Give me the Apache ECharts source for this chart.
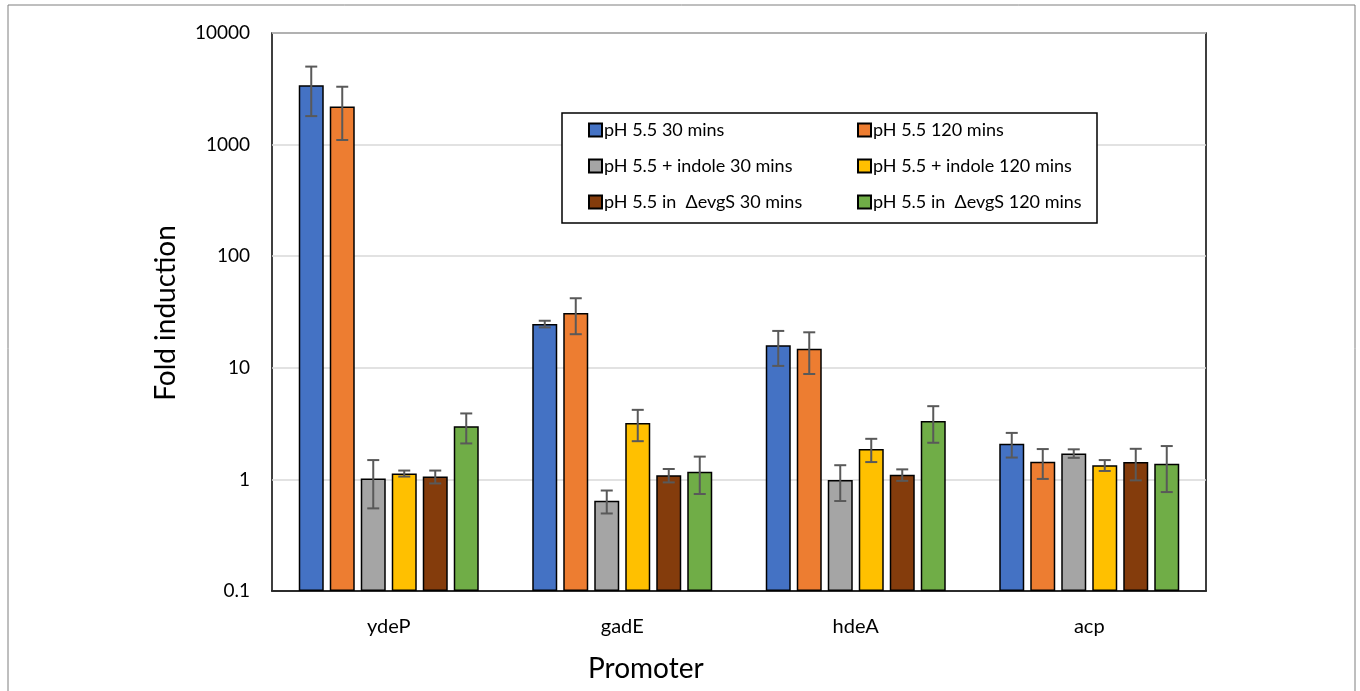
<!DOCTYPE html>
<html>
<head>
<meta charset="utf-8">
<script src="https://cdn.jsdelivr.net/npm/echarts@6/dist/echarts.min.js"></script>
<style>html,body{margin:0;padding:0;background:#fff;}#c{width:1360px;height:691px;}</style>
</head>
<body>
<div id="c"></div>
<script>
const categories = ['ydeP', 'gadE', 'hdeA', 'acp'];
const seriesNames = ['pH 5.5 30 mins', 'pH 5.5 120 mins', 'pH 5.5 + indole 30 mins', 'pH 5.5 + indole 120 mins', 'pH 5.5 in  \u0394evgS 30 mins', 'pH 5.5 in  \u0394evgS 120 mins'];
const ph30 = [3400, 24.7, 15.9, 2.09];
const ph120 = [2200, 31, 14.8, 1.44];
const indole30 = [1.02, 0.645, 0.99, 1.71];
const indole120 = [1.13, 3.2, 1.87, 1.34];
const evgS30 = [1.06, 1.09, 1.10, 1.43];
const evgS120 = [3.0, 1.17, 3.33, 1.38];
const ph30Err = [1600, 1.7, 5.5, 0.52];
const ph120Err = [1100, 11, 6, 0.43];
const indole30Err = [0.47, 0.15, 0.35, 0.15];
const indole120Err = [0.07, 1.0, 0.44, 0.15];
const evgS30Err = [0.14, 0.15, 0.13, 0.45];
const evgS120Err = [0.9, 0.43, 1.2, 0.61];
const yTicks = [0.1, 1, 10, 100, 1000, 10000];

const values = [ph30, ph120, indole30, indole120, evgS30, evgS120];
const errors = [ph30Err, ph120Err, indole30Err, indole120Err, evgS30Err, evgS120Err];
const colors = ['#4472C4', '#ED7D31', '#A5A5A5', '#FFC000', '#843C0C', '#70AD47'];

const BW = 25, GAP = 6, N = 6;
const font = 'Lato, "Open Sans", sans-serif';

const series = [];
values.forEach((vals, i) => {
  series.push({
    name: seriesNames[i], type: 'bar', data: vals,
    barWidth: BW, barGap: (GAP / BW * 100) + '%',
    itemStyle: { color: colors[i], borderColor: '#000', borderWidth: 1.5 },
    z: 2
  });
});
values.forEach((vals, i) => {
  const offset = -(N * BW + (N - 1) * GAP) / 2 + i * (BW + GAP) + BW / 2;
  series.push({
    type: 'custom', name: seriesNames[i] + ' err', z: 5, silent: true,
    encode: { x: 0, y: 1 },
    data: vals.map((v, c) => [c, v, errors[i][c]]),
    renderItem: function (params, api) {
      const c = api.value(0), v = api.value(1), e = api.value(2);
      const x = api.coord([c, v])[0] + offset;
      const yT = api.coord([c, v + e])[1];
      const yB = api.coord([c, Math.max(v - e, 0.1)])[1];
      const st = { stroke: '#595959', lineWidth: 2 };
      const hw = 6;
      return { type: 'group', children: [
        { type: 'line', shape: { x1: x, y1: yT, x2: x, y2: yB }, style: st },
        { type: 'line', shape: { x1: x - hw, y1: yT, x2: x + hw, y2: yT }, style: st },
        { type: 'line', shape: { x1: x - hw, y1: yB, x2: x + hw, y2: yB }, style: st }
      ]};
    }
  });
});

const legendCommon = {
  orient: 'vertical', itemWidth: 13, itemHeight: 13, itemGap: 18,
  icon: 'rect', z: 10, padding: 0,
  textStyle: { fontFamily: font, fontSize: 18, color: '#000', padding: [0, 0, 0, -3] }
};

const chart = echarts.init(document.getElementById('c'));
chart.setOption({
  animation: false,
  backgroundColor: '#fff',
  grid: { left: 272, right: 154, top: 33, bottom: 100, show: true, borderColor: '#000', borderWidth: 1.5, containLabel: false },
  legend: [
    Object.assign({ data: [seriesNames[0], seriesNames[2], seriesNames[4]], left: 588, top: 121 }, legendCommon),
    Object.assign({ data: [seriesNames[1], seriesNames[3], seriesNames[5]], left: 857, top: 121 }, legendCommon)
  ],
  graphic: [
    { type: 'rect', z: 3, shape: { x: 562, y: 113, width: 535, height: 110 }, style: { fill: '#fff', stroke: '#000', lineWidth: 1.5 } },
    { type: 'rect', z: 1, shape: { x: 8, y: 5, width: 1347, height: 700 }, style: { fill: 'none', stroke: '#7f7f7f', lineWidth: 1 } },
    { type: 'text', z: 5, left: 588, top: 655, style: { text: 'Promoter', fontFamily: font, fontSize: 28, fill: '#000' } },
    { type: 'text', z: 5, x: 166, y: 313, rotation: Math.PI / 2, style: { text: 'Fold induction', fontFamily: font, fontSize: 28, fill: '#000', align: 'center', verticalAlign: 'middle' } }
  ],
  xAxis: {
    type: 'category', data: categories,
    axisLine: { show: true, lineStyle: { color: '#000', width: 1.5 } },
    axisTick: { show: false },
    axisLabel: { fontFamily: font, fontSize: 20, color: '#000', margin: 26 }
  },
  yAxis: {
    type: 'log', logBase: 10, min: 0.1, max: 10000, startValue: 0.1,
    axisLine: { show: false }, axisTick: { show: false },
    splitLine: { show: true, lineStyle: { color: '#d9d9d9', width: 1.5 } },
    axisLabel: { fontFamily: font, fontSize: 19, color: '#000', margin: 22,
      formatter: function (v) { const m = yTicks.find(t => Math.abs(t - v) / t < 1e-6); return m !== undefined ? String(m) : ''; } }
  },
  series: series
});
</script>
</body>
</html>
